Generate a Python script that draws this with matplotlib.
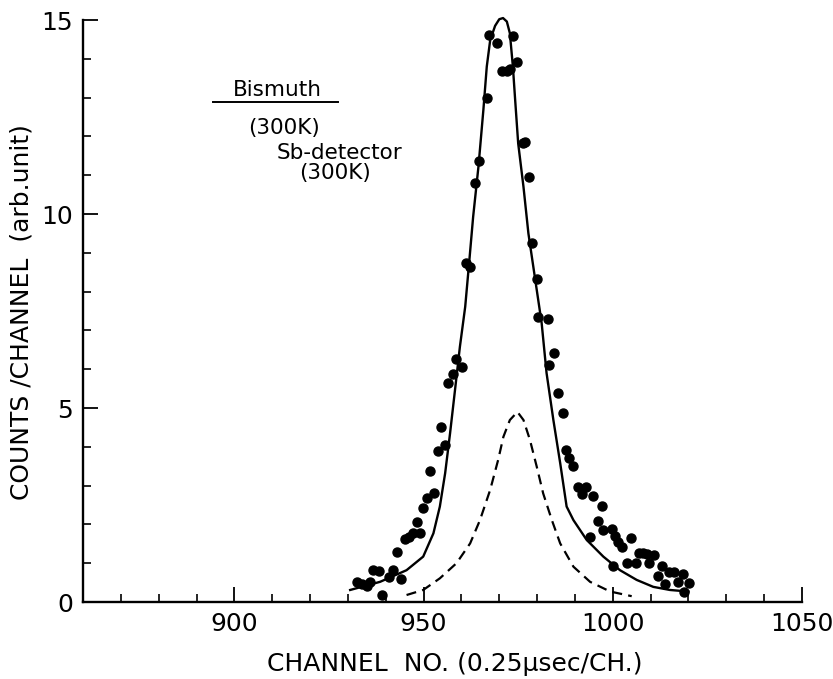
import matplotlib
matplotlib.use('Agg')
import matplotlib.pyplot as plt
from matplotlib.ticker import FixedLocator, MultipleLocator

# measured points (channel, counts)
dot_x = [932.3, 933.7, 935.0, 935.8, 936.7, 938.3, 938.9, 940.9, 942.0, 944.0,
         942.9, 945.1, 946.2, 947.3, 949.1, 948.3, 949.9, 951.0, 952.8, 951.7,
         953.9, 955.7, 954.6, 956.5, 957.7, 958.6, 960.1, 961.2, 962.3, 963.6,
         964.7, 966.7, 967.4, 969.3, 970.6, 972.0, 972.8, 973.6, 974.6, 976.2,
         976.8, 977.9, 978.6, 979.9, 980.3, 982.8, 984.5, 983.2, 985.6, 986.8,
         987.6, 988.4, 989.4, 990.7, 992.8, 991.9, 994.7, 997.1, 996.2, 997.3,
         999.7, 1000.6, 994.0, 1001.5, 1002.4, 1004.8, 1000.0, 1003.8, 1006.1, 1007.0,
         1008.1, 1009.1, 1011.0, 1009.7, 1012.9, 1011.9, 1014.9, 1016.2, 1018.5, 1013.8,
         1017.3, 1020.1, 1018.9]
dot_y = [0.51, 0.46, 0.41, 0.52, 0.82, 0.81, 0.18, 0.65, 0.82, 0.59,
         1.30, 1.63, 1.67, 1.77, 1.79, 2.07, 2.43, 2.67, 2.82, 3.38,
         3.90, 4.05, 4.52, 5.65, 5.88, 6.26, 6.05, 8.73, 8.64, 10.79,
         11.37, 12.98, 14.61, 14.41, 13.69, 13.69, 13.75, 14.59, 13.93, 11.82,
         11.86, 10.96, 9.26, 8.32, 7.34, 7.29, 6.41, 6.11, 5.38, 4.88,
         3.92, 3.70, 3.51, 2.97, 2.96, 2.78, 2.73, 2.47, 2.10, 1.86,
         1.87, 1.70, 1.67, 1.55, 1.43, 1.64, 0.94, 1.00, 1.00, 1.26,
         1.26, 1.24, 1.21, 1.01, 0.94, 0.67, 0.78, 0.78, 0.72, 0.46,
         0.52, 0.48, 0.27]

# fitted total curve (solid)
fit_x = [930.6, 938.5, 945.5, 949.9, 952.6, 954.3, 955.7, 957.0, 958.3, 959.6,
         961.0, 962.1, 963.1, 964.5, 965.8, 966.7, 967.6, 968.9, 970.0, 971.0,
         972.0, 972.8, 973.6, 974.2, 975.0, 976.4, 977.7, 979.0, 981.2, 982.5,
         984.3, 986.1, 987.8, 989.6, 993.1, 997.5, 1001.9, 1006.3, 1010.7, 1015.1,
         1020.0]
fit_y = [0.31, 0.52, 0.82, 1.17, 1.77, 2.46, 3.32, 4.35, 5.46, 6.58,
         7.61, 8.81, 9.93, 11.22, 12.68, 13.80, 14.48, 14.85, 15.02, 15.05,
         14.96, 14.66, 13.80, 12.94, 11.82, 10.70, 9.50, 8.64, 7.19, 5.90,
         4.69, 3.58, 2.46, 2.11, 1.60, 1.17, 0.82, 0.57, 0.39, 0.31,
         0.27]

# detector response (dashed)
resp_x = [945.5, 949.9, 954.3, 958.7, 962.3, 964.9, 967.6, 969.7, 971.1, 972.8,
          974.8, 976.4, 978.1, 979.9, 981.6, 983.9, 986.1, 989.6, 994.0, 999.3,
          1005.0]
resp_y = [0.18, 0.31, 0.61, 1.00, 1.51, 2.11, 2.89, 3.66, 4.26, 4.69,
          4.90, 4.69, 4.18, 3.49, 2.80, 2.11, 1.51, 0.91, 0.52, 0.27,
          0.15]

x_major = [900, 950, 1000, 1050]
y_major = [0, 5, 10, 15]

fig = plt.figure(figsize=(8.33, 6.79), dpi=100)
ax = fig.add_axes([83 / 833, 1 - 602 / 679, (802 - 83) / 833, (602 - 20) / 679])

ax.plot(fit_x, fit_y, color='black', lw=1.7, clip_on=False, solid_joinstyle='round')
ax.plot(resp_x, resp_y, color='black', lw=1.6, ls=(0, (4.5, 2.8)), clip_on=False)
ax.plot(dot_x, dot_y, 'o', color='black', markersize=6.5, clip_on=False)

ax.set_xlim(860, 1050)
ax.set_ylim(0, 15)
for s in ['top', 'right']:
    ax.spines[s].set_visible(False)
for s in ['left', 'bottom']:
    ax.spines[s].set_linewidth(1.7)

ax.xaxis.set_major_locator(FixedLocator(x_major))
ax.xaxis.set_minor_locator(MultipleLocator(10))
ax.yaxis.set_major_locator(FixedLocator(y_major))
ax.yaxis.set_minor_locator(MultipleLocator(1))
ax.tick_params(which='major', direction='in', length=11, width=1.3, labelsize=18, pad=7)
ax.tick_params(which='minor', direction='in', length=5.5, width=1.2)

fig.text(455 / 833, 1 - 664 / 679, 'CHANNEL  NO. (0.25μsec/CH.)', fontsize=18,
         ha='center', va='center')
fig.text(22 / 833, 1 - 312 / 679, 'COUNTS /CHANNEL  (arb.unit)', fontsize=18,
         rotation=90, ha='center', va='center')

ax.text(911.3, 13.2, 'Bismuth', fontsize=15.5, ha='center', va='center')
ax.plot([894.4, 927.4], [12.88, 12.88], color='black', lw=1.4)
ax.text(913.1, 12.22, '(300K)', fontsize=15.5, ha='center', va='center')
ax.text(927.9, 11.58, 'Sb-detector', fontsize=15.5, ha='center', va='center')
ax.text(926.7, 11.06, '(300K)', fontsize=15.5, ha='center', va='center')

fig.savefig('out.png', dpi=100)
